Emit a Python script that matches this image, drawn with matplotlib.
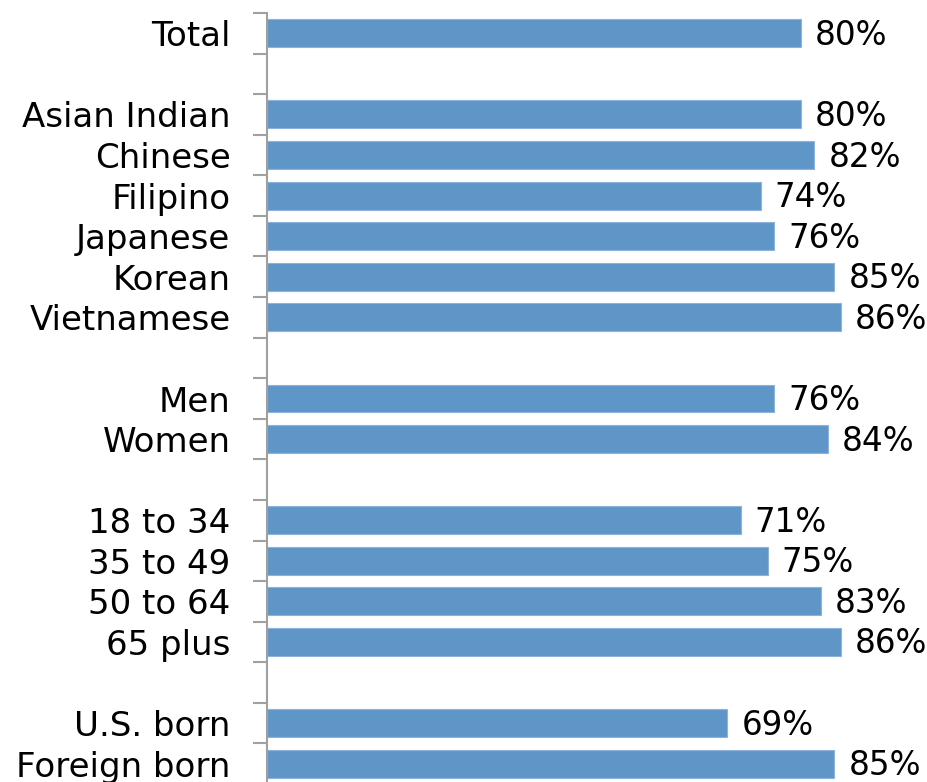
import matplotlib
matplotlib.use("Agg")
import matplotlib.pyplot as plt
import numpy as np

categories = ["Total",
              "Asian Indian", "Chinese", "Filipino", "Japanese", "Korean", "Vietnamese",
              "Men", "Women",
              "18 to 34", "35 to 49", "50 to 64", "65 plus",
              "U.S. born", "Foreign born"]
values = [80, 80, 82, 74, 76, 85, 86, 76, 84, 71, 75, 83, 86, 69, 85]
value_labels = ["80%", "80%", "82%", "74%", "76%", "85%", "86%", "76%", "84%",
                "71%", "75%", "83%", "86%", "69%", "85%"]
group_sizes = [1, 6, 2, 4, 2]

# positions with a blank slot between groups
positions = []
slot = 0
for gi, n in enumerate(group_sizes):
    for _ in range(n):
        positions.append(slot)
        slot += 1
    slot += 1
n_slots = slot - 1

W, H = 927, 782
dpi = 100
fig = plt.figure(figsize=(W / dpi, H / dpi), dpi=dpi)
left = 266.5 / W
top = 1 - 13 / H
bottom = -2 / H
ax = fig.add_axes([left, bottom, 1 - left, top - bottom])

ax.barh(positions, values, height=0.69, color="#5F96C8", edgecolor="#8DB3DB", linewidth=0.8)

xmax = (W - 266.5) / 6.68
ax.set_xlim(0, xmax)
ax.set_ylim(n_slots - 0.5, -0.5)

font = "DejaVu Sans"
ax.set_yticks(positions)
ax.set_yticklabels(categories, fontsize=24.5, family=font, color="#000000")
ax.tick_params(axis="y", which="major", length=0, pad=26)
ax.set_yticks(np.arange(-0.5, n_slots, 1.0), minor=True)
ax.tick_params(axis="y", which="minor", length=10, width=1.5, color="#A0A0A0", direction="out")
ax.set_xticks([])

for s in ["top", "right", "bottom"]:
    ax.spines[s].set_visible(False)
ax.spines["left"].set_color("#A0A0A0")
ax.spines["left"].set_linewidth(1.5)

for p, v, lab in zip(positions, values, value_labels):
    ax.annotate(lab, xy=(v, p), xytext=(14, -2), textcoords="offset pixels",
                va="center", ha="left", fontsize=23.5, family=font, color="#000000")

fig.savefig("out.png", dpi=dpi)
